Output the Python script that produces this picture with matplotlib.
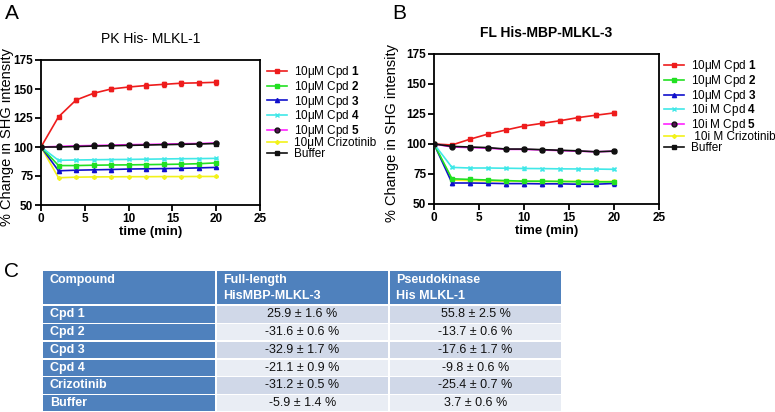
import matplotlib
matplotlib.use('Agg')
import matplotlib.pyplot as plt
from matplotlib.patches import Rectangle
from matplotlib import font_manager

names = {f.name for f in font_manager.fontManager.ttflist}
NARROW = 'Liberation Sans Narrow' if 'Liberation Sans Narrow' in names else 'Liberation Sans'

plt.rcParams['font.family'] = ['Liberation Sans', 'DejaVu Sans']
plt.rcParams['mathtext.fontset'] = 'custom'
plt.rcParams['mathtext.rm'] = 'Liberation Sans'
plt.rcParams['mathtext.bf'] = 'Liberation Sans:bold'

# ---------------- data ----------------
time = [0, 2, 4, 6, 8, 10, 12, 14, 16, 18, 20]

# Panel A: PK His- MLKL-1
a_cpd1 = [100, 126, 140.5, 146.3, 150, 151.7, 153, 154, 155, 155.3, 155.8]
a_cpd2 = [100, 84, 84, 84.3, 84.5, 84.6, 84.8, 85, 85.2, 85.6, 86.3]
a_cpd3 = [100, 79.5, 80, 80.3, 80.6, 81, 81.2, 81.4, 81.6, 82, 82.4]
a_cpd4 = [100, 88.5, 88.8, 89, 89.2, 89.3, 89.5, 89.7, 89.9, 90, 90.2]
a_cpd5 = [100, 100.5, 101, 101.3, 101.6, 102, 102.2, 102.5, 102.8, 103, 103.5]
a_criz = [100, 73.5, 74, 74.2, 74.3, 74.4, 74.4, 74.5, 74.5, 74.6, 74.6]
a_buff = [100, 100, 100.4, 100.8, 101.1, 101.4, 101.7, 102, 102.3, 102.6, 103]
a_err1 = [0, 1, 2, 2, 2, 2, 2, 2, 2, 2, 2]
a_err_small = [0, 0.6, 0.6, 0.6, 0.6, 0.6, 0.6, 0.6, 0.6, 0.6, 0.6]

# Panel B: FL His-MBP-MLKL-3
b_cpd1 = [100, 99.2, 104, 108.3, 111.7, 115, 117.2, 119.4, 122, 124, 125.9]
b_cpd2 = [100, 71, 70.5, 70, 69.5, 69, 69, 68.8, 68.6, 68.5, 68.4]
b_cpd3 = [100, 67.5, 67.5, 67.3, 67, 67, 66.8, 66.8, 66.5, 66.5, 67.1]
b_cpd4 = [100, 80.5, 80, 80, 79.8, 79.6, 79.5, 79.3, 79.2, 79.1, 78.9]
b_cpd5 = [100, 97.5, 97, 96.5, 95.5, 95.5, 95, 94.5, 94, 93.5, 94]
b_criz = [100, 70, 69.5, 69.3, 69, 68.9, 68.8, 68.8, 68.8, 68.8, 68.8]
b_buff = [100, 98, 97.5, 97, 95.8, 95.8, 95.3, 94.8, 94.3, 93.5, 94.1]
b_err1 = [0, 1, 1, 1, 1.2, 1.2, 1.4, 1.4, 1.6, 1.6, 1.6]
b_err3 = [0, 1.5, 1.7, 1.7, 1.7, 1.7, 1.7, 1.7, 1.7, 1.7, 1.7]
b_err_small = [0, 0.8, 0.8, 0.8, 0.9, 0.9, 0.9, 0.9, 0.9, 0.9, 0.9]

labels_a = ['10μM Cpd $\\mathbf{1}$', '10μM Cpd $\\mathbf{2}$', '10μM Cpd $\\mathbf{3}$',
            '10μM Cpd $\\mathbf{4}$', '10μM Cpd $\\mathbf{5}$', '10μM Crizotinib', 'Buffer']
labels_b = ['10μM Cpd $\\mathbf{1}$', '10μM Cpd $\\mathbf{2}$', '10μM Cpd $\\mathbf{3}$',
            '10i M Cpd $\\mathbf{4}$', '10i M Cpd $\\mathbf{5}$', ' 10i M Crizotinib', 'Buffer']

# Table
tbl_header = ['Compound', 'Full-length\nHisMBP-MLKL-3', 'Pseudokinase\nHis MLKL-1']
tbl_rows = ['Cpd 1', 'Cpd 2', 'Cpd 3', 'Cpd 4', 'Crizotinib', 'Buffer']
tbl_fl = ['25.9 ± 1.6 %', '-31.6 ± 0.6 %', '-32.9 ± 1.7 %', '-21.1 ± 0.9 %', '-31.2 ± 0.5 %', '-5.9 ± 1.4 %']
tbl_pk = ['55.8 ± 2.5 %', '-13.7 ± 0.6 %', '-17.6 ± 1.7 %', '-9.8 ± 0.6 %', '-25.4 ± 0.7 %', '3.7 ± 0.6 %']

# ---------------- styles ----------------
styles = [
    dict(color='#ee1c1c', marker='s', ms=2.5, mfc='#ee1c1c', mec='#ee1c1c'),
    dict(color='#22e022', marker='s', ms=2.5, mfc='#22e022', mec='#22e022'),
    dict(color='#1010cc', marker='^', ms=3, mfc='#1010cc', mec='#1010cc'),
    dict(color='#40e8e8', marker='x', ms=2.5, mfc='#40e8e8', mec='#40e8e8'),
    dict(color='#ff22ff', marker='o', ms=3.5, mfc='#551155', mec='#111111'),
    dict(color='#f2f21a', marker='D', ms=2, mfc='#f2f21a', mec='#f2f21a'),
    dict(color='#111111', marker='s', ms=3, mfc='#111111', mec='#111111'),
]

W, H = 775, 412
fig = plt.figure(figsize=(W / 100, H / 100), dpi=100)


def frac(l, t, r, b):
    return [l / W, 1 - b / H, (r - l) / W, (b - t) / H]


def panel(rect, series, errs, labels, title, title_bold, leg_anchor, ylab_x):
    ax = fig.add_axes(rect)
    handles = []
    order = [5, 2, 1, 3, 0, 4, 6]
    zs = {}
    for k, i in enumerate(order):
        zs[i] = 2 + k
    for i, (vals, err) in enumerate(zip(series, errs)):
        st = styles[i]
        c = ax.errorbar(time, vals, yerr=err, color=st['color'], marker=st['marker'],
                        ms=st['ms'], mfc=st['mfc'], mec=st['mec'], mew=1.0,
                        lw=1.2, elinewidth=1.2, capsize=1.6, capthick=1.0, zorder=zs[i])
        handles.append(c.lines[0])
    ax.set_xlim(0, 25)
    ax.set_ylim(50, 175)
    ax.set_xticks([0, 5, 10, 15, 20, 25])
    ax.set_yticks([50, 75, 100, 125, 150, 175])
    for s in ax.spines.values():
        s.set_linewidth(1.3)
    ax.tick_params(direction='out', length=4, width=1.3, labelsize=8.5, pad=1.5)
    for lab in ax.get_xticklabels() + ax.get_yticklabels():
        lab.set_fontweight('bold')
    ax.set_xlabel('time (min)', fontsize=9.5, fontweight='bold', labelpad=1)
    ax.set_ylabel('% Change in SHG intensity', fontsize=10.5)
    ax.yaxis.set_label_coords(ylab_x, 0.47)
    ax.set_title(title, fontsize=10, fontweight='bold' if title_bold else 'normal', pad=12)
    ax.legend(handles, labels, loc='upper left', bbox_to_anchor=leg_anchor, frameon=False,
              fontsize=8.5, handlelength=1.7, handletextpad=0.6, labelspacing=-0.12,
              borderpad=0, borderaxespad=0)
    return ax


panel(frac(41, 60, 260, 205),
      [a_cpd1, a_cpd2, a_cpd3, a_cpd4, a_cpd5, a_criz, a_buff],
      [a_err1, a_err_small, a_err_small, a_err_small, a_err_small, a_err_small, a_err_small],
      labels_a, 'PK His- MLKL-1', False, (1.03, 0.97), -0.125)
panel(frac(434, 54, 659, 204),
      [b_cpd1, b_cpd2, b_cpd3, b_cpd4, b_cpd5, b_criz, b_buff],
      [b_err1, b_err_small, b_err3, b_err_small, b_err_small, b_err_small, b_err_small],
      labels_b, 'FL His-MBP-MLKL-3', True, (1.02, 0.97), -0.155)

fig.text(5 / W, 1 - 4 / H, 'A', fontsize=15, va='top', ha='left')
fig.text(392 / W, 1 - 4 / H, 'B', fontsize=15, va='top', ha='left')
fig.text(4 / W, 1 - 262 / H, 'C', fontsize=15, va='top', ha='left')

# ---------------- table ----------------
tax = fig.add_axes([0, 0, 1, 1])
tax.set_xlim(0, W)
tax.set_ylim(H, 0)
tax.axis('off')

col_edges = [43, 216, 389, 562]
gap = 1.5
head_top, head_bot = 271, 304
row_top0, row_h = 305.5, 17.75
BLUE = '#4f81bd'
LIGHT1, LIGHT2 = '#d0d8e8', '#e9edf4'

for j in range(3):
    x0, x1 = col_edges[j] + (gap / 2 if j else 0), col_edges[j + 1] - gap / 2
    tax.add_patch(Rectangle((x0, head_top), x1 - x0, head_bot - head_top, color=BLUE, lw=0))
    lines = tbl_header[j].split('\n')
    for k, ln in enumerate(lines):
        tax.text(col_edges[j] + 7, head_top + 9 + k * 16, ln, color='white', fontsize=9,
                 fontweight='bold', family=[NARROW, 'DejaVu Sans'], va='center', ha='left')

for i, name in enumerate(tbl_rows):
    y0 = row_top0 + i * row_h + gap / 2
    h = row_h - gap
    fill = LIGHT1 if i % 2 == 0 else LIGHT2
    for j in range(3):
        x0, x1 = col_edges[j] + (gap / 2 if j else 0), col_edges[j + 1] - gap / 2
        tax.add_patch(Rectangle((x0, y0), x1 - x0, h, color=BLUE if j == 0 else fill, lw=0))
    yc = y0 + h / 2
    tax.text(col_edges[0] + 7, yc, name, color='white', fontsize=9, fontweight='bold',
             family=[NARROW, 'DejaVu Sans'], va='center', ha='left')
    tax.text((col_edges[1] + col_edges[2]) / 2, yc, tbl_fl[i], color='#111111', fontsize=9,
             family=[NARROW, 'DejaVu Sans'], va='center', ha='center')
    tax.text((col_edges[2] + col_edges[3]) / 2, yc, tbl_pk[i], color='#111111', fontsize=9,
             family=[NARROW, 'DejaVu Sans'], va='center', ha='center')

fig.savefig('out.png', dpi=100)
